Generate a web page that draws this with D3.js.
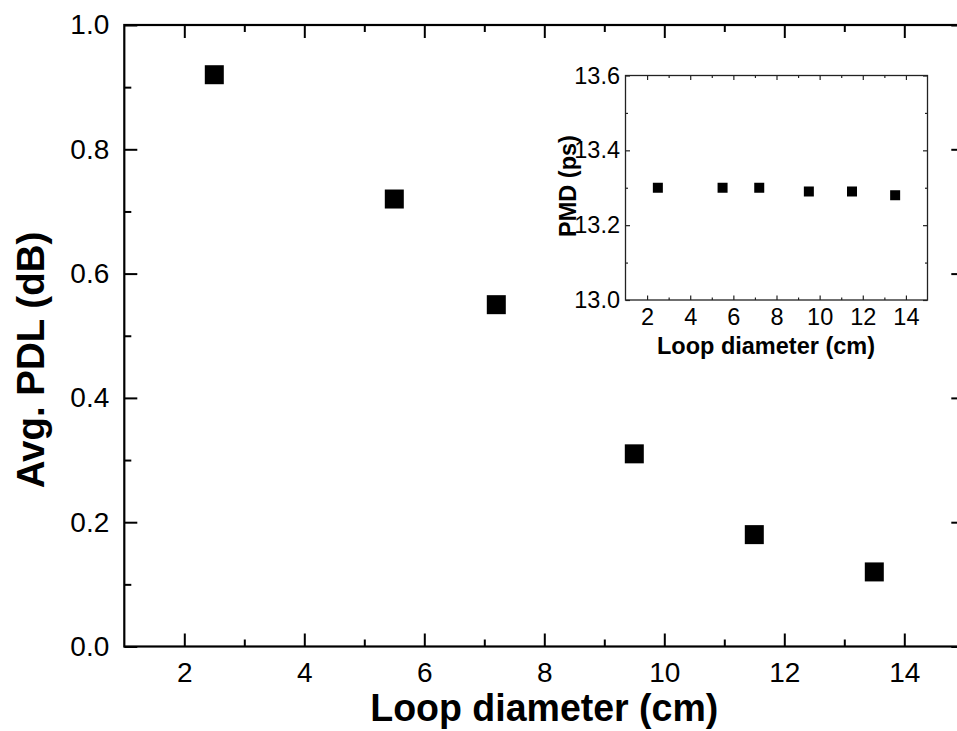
<!DOCTYPE html>
<html>
<head>
<meta charset="utf-8">
<script src="https://cdn.jsdelivr.net/npm/d3@7"></script>
<style>
  html, body { margin: 0; padding: 0; background: #fff; }
  svg { display: block; }
  text { font-family: "Liberation Sans", Arial, sans-serif; fill: #000; }
</style>
</head>
<body>
<svg id="chart" width="957" height="731"></svg>
<script>
// ---- data ----
const diameters = [2.5, 5.5, 7.2, 9.5, 11.5, 13.5];
const avgPDL = [0.92, 0.72, 0.55, 0.31, 0.18, 0.12];
const pmd = [13.30, 13.30, 13.30, 13.29, 13.29, 13.28];

const xMajorTicks = [2, 4, 6, 8, 10, 12, 14];
const xMinorTicks = [3, 5, 7, 9, 11, 13];
const yMainMajor = [0.0, 0.2, 0.4, 0.6, 0.8, 1.0];
const yMainMinor = [0.1, 0.3, 0.5, 0.7, 0.9];
const yInsetMajor = [13.0, 13.2, 13.4, 13.6];
const yInsetMinor = [13.1, 13.3, 13.5];

const svg = d3.select("#chart");

// ---- main chart ----
const M = { left: 124.3, right: 964.3, top: 25, bottom: 646.5 };
const x = d3.scaleLinear().domain([1, 15]).range([M.left, M.right]);
const y = d3.scaleLinear().domain([0, 1.0]).range([M.bottom, M.top]);

const main = svg.append("g");

function styleAxis(g, width, color) {
  g.select(".domain").remove();
  g.selectAll(".tick line").attr("stroke", color).attr("stroke-width", width);
}

// bottom
main.append("g").attr("transform", `translate(0,${M.bottom})`)
  .call(d3.axisBottom(x).tickValues(xMajorTicks).tickSize(-13).tickSizeOuter(0).tickPadding(16).tickFormat(d3.format("d")))
  .call(g => styleAxis(g, 2, "#000"))
  .call(g => g.selectAll("text").attr("font-size", 28).attr("fill", "#000"));
main.append("g").attr("transform", `translate(0,${M.bottom})`)
  .call(d3.axisBottom(x).tickValues(xMinorTicks).tickSize(-7).tickSizeOuter(0).tickFormat(""))
  .call(g => styleAxis(g, 2, "#000"));
// top
main.append("g").attr("transform", `translate(0,${M.top})`)
  .call(d3.axisTop(x).tickValues(xMajorTicks).tickSize(-13).tickSizeOuter(0).tickFormat(""))
  .call(g => styleAxis(g, 2, "#000"));
main.append("g").attr("transform", `translate(0,${M.top})`)
  .call(d3.axisTop(x).tickValues(xMinorTicks).tickSize(-7).tickSizeOuter(0).tickFormat(""))
  .call(g => styleAxis(g, 2, "#000"));
// left
main.append("g").attr("transform", `translate(${M.left},0)`)
  .call(d3.axisLeft(y).tickValues(yMainMajor).tickSize(-13).tickSizeOuter(0).tickPadding(15).tickFormat(d3.format(".1f")))
  .call(g => styleAxis(g, 2, "#000"))
  .call(g => g.selectAll("text").attr("font-size", 28).attr("fill", "#000"));
main.append("g").attr("transform", `translate(${M.left},0)`)
  .call(d3.axisLeft(y).tickValues(yMainMinor).tickSize(-7).tickSizeOuter(0).tickFormat(""))
  .call(g => styleAxis(g, 2, "#000"));
// right
main.append("g").attr("transform", `translate(${M.right},0)`)
  .call(d3.axisRight(y).tickValues(yMainMajor).tickSize(-13).tickSizeOuter(0).tickFormat(""))
  .call(g => styleAxis(g, 2, "#000"));
main.append("g").attr("transform", `translate(${M.right},0)`)
  .call(d3.axisRight(y).tickValues(yMainMinor).tickSize(-7).tickSizeOuter(0).tickFormat(""))
  .call(g => styleAxis(g, 2, "#000"));

main.append("rect")
  .attr("x", M.left).attr("y", M.top)
  .attr("width", M.right - M.left).attr("height", M.bottom - M.top)
  .attr("fill", "none").attr("stroke", "#000").attr("stroke-width", 2.2);

// markers
const mainSize = 19;
main.append("g").selectAll("rect.pt")
  .data(diameters.map((d, i) => [d, avgPDL[i]]))
  .join("rect")
  .attr("x", d => x(d[0]) - mainSize / 2)
  .attr("y", d => y(d[1]) - mainSize / 2)
  .attr("width", mainSize).attr("height", mainSize)
  .attr("fill", "#000");

// titles
main.append("text")
  .attr("x", (M.left + M.right) / 2).attr("y", 721)
  .attr("text-anchor", "middle")
  .attr("font-size", 38).attr("font-weight", "bold")
  .attr("textLength", 348).attr("lengthAdjust", "spacingAndGlyphs")
  .text("Loop diameter (cm)");

main.append("text")
  .attr("transform", `translate(44,360) rotate(-90)`)
  .attr("text-anchor", "middle")
  .attr("font-size", 38.5).attr("font-weight", "bold")
  .text("Avg. PDL (dB)");

// ---- inset ----
const I = { left: 625.5, right: 927.5, top: 75.5, bottom: 300 };
const xi = d3.scaleLinear().domain([1, 15]).range([I.left, I.right]);
const yi = d3.scaleLinear().domain([13.0, 13.6]).range([I.bottom, I.top]);
const inset = svg.append("g");
const ic = "#222";

inset.append("rect")
  .attr("x", I.left).attr("y", I.top)
  .attr("width", I.right - I.left).attr("height", I.bottom - I.top)
  .attr("fill", "#fff");

inset.append("g").attr("transform", `translate(0,${I.bottom})`)
  .call(d3.axisBottom(xi).tickValues(xMajorTicks).tickSize(-4.5).tickSizeOuter(0).tickPadding(8.5).tickFormat(d3.format("d")))
  .call(g => styleAxis(g, 1.2, ic))
  .call(g => g.selectAll("text").attr("font-size", 23.5).attr("fill", "#000"));
inset.append("g").attr("transform", `translate(0,${I.bottom})`)
  .call(d3.axisBottom(xi).tickValues(xMinorTicks).tickSize(-2.5).tickSizeOuter(0).tickFormat(""))
  .call(g => styleAxis(g, 1.2, ic));
inset.append("g").attr("transform", `translate(0,${I.top})`)
  .call(d3.axisTop(xi).tickValues(xMajorTicks).tickSize(-4.5).tickSizeOuter(0).tickFormat(""))
  .call(g => styleAxis(g, 1.2, ic));
inset.append("g").attr("transform", `translate(0,${I.top})`)
  .call(d3.axisTop(xi).tickValues(xMinorTicks).tickSize(-2.5).tickSizeOuter(0).tickFormat(""))
  .call(g => styleAxis(g, 1.2, ic));
inset.append("g").attr("transform", `translate(${I.left},0)`)
  .call(d3.axisLeft(yi).tickValues(yInsetMajor).tickSize(-4.5).tickSizeOuter(0).tickPadding(5.5).tickFormat(d3.format(".1f")))
  .call(g => styleAxis(g, 1.2, ic))
  .call(g => g.selectAll("text").attr("font-size", 23.5).attr("fill", "#000"));
inset.append("g").attr("transform", `translate(${I.left},0)`)
  .call(d3.axisLeft(yi).tickValues(yInsetMinor).tickSize(-2.5).tickSizeOuter(0).tickFormat(""))
  .call(g => styleAxis(g, 1.2, ic));
inset.append("g").attr("transform", `translate(${I.right},0)`)
  .call(d3.axisRight(yi).tickValues(yInsetMajor).tickSize(-4.5).tickSizeOuter(0).tickFormat(""))
  .call(g => styleAxis(g, 1.2, ic));
inset.append("g").attr("transform", `translate(${I.right},0)`)
  .call(d3.axisRight(yi).tickValues(yInsetMinor).tickSize(-2.5).tickSizeOuter(0).tickFormat(""))
  .call(g => styleAxis(g, 1.2, ic));

inset.append("rect")
  .attr("x", I.left).attr("y", I.top)
  .attr("width", I.right - I.left).attr("height", I.bottom - I.top)
  .attr("fill", "none").attr("stroke", ic).attr("stroke-width", 1.3);

const insetSize = 10;
inset.append("g").selectAll("rect.pt")
  .data(diameters.map((d, i) => [d, pmd[i]]))
  .join("rect")
  .attr("x", d => xi(d[0]) - insetSize / 2)
  .attr("y", d => yi(d[1]) - insetSize / 2)
  .attr("width", insetSize).attr("height", insetSize)
  .attr("fill", "#000");

inset.append("text")
  .attr("x", 766).attr("y", 354)
  .attr("text-anchor", "middle")
  .attr("font-size", 23.5).attr("font-weight", "bold")
  .text("Loop diameter (cm)");

inset.append("text")
  .attr("transform", `translate(576,186) rotate(-90)`)
  .attr("text-anchor", "middle")
  .attr("font-size", 23.5).attr("font-weight", "bold")
  .text("PMD (ps)");
</script>
</body>
</html>
